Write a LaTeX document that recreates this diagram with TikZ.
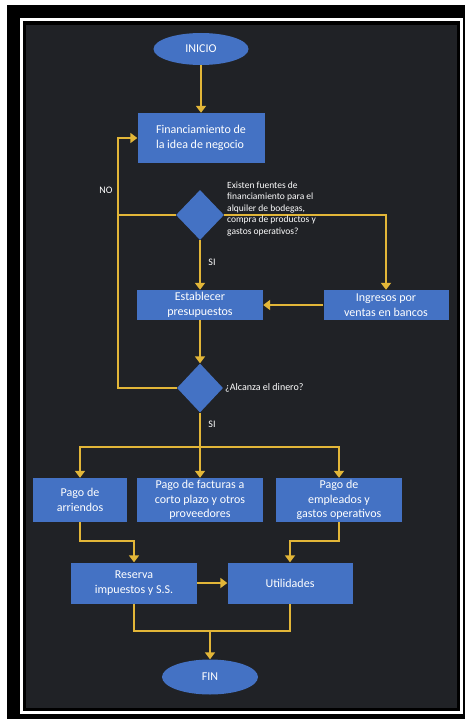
\documentclass[tikz,border=0pt]{standalone}
\usepackage{fontspec}
\setmainfont{Carlito}
\usetikzlibrary{shapes.geometric,arrows.meta}
\definecolor{boxblue}{HTML}{4472C4}
\definecolor{flowgold}{HTML}{E2B638}
\definecolor{panel}{HTML}{202226}
\tikzset{
  x=1pt, y=-1pt,
  stepbox/.style={rectangle, fill=boxblue, text=white, align=center,
    font=\fontsize{12}{14.5}\selectfont, inner sep=2pt},
  term/.style={ellipse, fill=boxblue, text=white, inner sep=0pt,
    font=\fontsize{12}{14.5}\selectfont},
  decision/.style={diamond, fill=boxblue, inner sep=0pt, aspect=1},
  flow/.style={draw=flowgold, line width=1.8pt},
  arr/.style={flow, -{Triangle[width=10pt,length=7pt]}},
  lbl/.style={text=white, inner sep=0pt, font=\fontsize{10}{12}\selectfont},
}
\begin{document}
\begin{tikzpicture}
% page, frame and dark panel
\fill[white] (0,0) rectangle (469,719);
\useasboundingbox (0,0) rectangle (469,719);
\fill[black] (7,5) rectangle (465,719);
\draw[white, line width=2.5pt] (21.5,19.5) rectangle (461.5,712.5);
\fill[panel] (26,25) rectangle (457,708);

% terminals and steps
\node[term, minimum width=95pt, minimum height=32pt] (inicio) at (201,49) {INICIO};
\node[stepbox, minimum width=127pt, minimum height=50pt, align=left] (financ) at (201,138)
  {Financiamiento de\\la idea de negocio};
\node[decision, minimum width=48pt, minimum height=50pt] (d1) at (200,215) {};
\node[stepbox, minimum width=126pt, minimum height=30pt] (estab) at (200,305)
  {Establecer\\presupuestos};
\node[stepbox, minimum width=125pt, minimum height=30pt] (ingresos) at (386,305)
  {Ingresos por\\ventas en bancos};
\node[decision, minimum width=46pt, minimum height=49pt] (d2) at (200,388) {};
\node[stepbox, minimum width=94pt, minimum height=44pt] (arriendos) at (80,500)
  {Pago de\\arriendos};
\node[stepbox, minimum width=126pt, minimum height=44pt] (facturas) at (200,500)
  {Pago de facturas a\\corto plazo y otros\\proveedores};
\node[stepbox, minimum width=126pt, minimum height=44pt] (empleados) at (339,500)
  {Pago de\\empleados y\\gastos operativos};
\node[stepbox, minimum width=126pt, minimum height=41pt] (reserva) at (134,583)
  {Reserva\\impuestos y S.S.};
\node[stepbox, minimum width=125pt, minimum height=41pt] (util) at (290,583)
  {Utilidades};
\node[term, minimum width=96pt, minimum height=35pt] (fin) at (210,677) {FIN};

% junction points
\coordinate (n1) at (118,215);
\coordinate (loopL) at (118,388);
\coordinate (j1) at (200,447);
\coordinate (ka) at (80,541);
\coordinate (ke) at (339,541);
\coordinate (jf) at (210,631);

% connectors
\draw[arr] (inicio) -- (financ);
\draw[flow] (d1.west) -- (n1);
\draw[arr] (d2.west) -- (loopL) |- (financ.west);
\draw[arr] (d1.east) -| (ingresos.north);
\draw[arr] (d1.south) -- (estab.north);
\draw[arr] (ingresos.west) -- (estab.east);
\draw[arr] (estab.south) -- (d2.north);
\draw[flow] (d2.south) -- (j1);
\draw[arr] (j1) -| (arriendos.north);
\draw[arr] (j1) -| (empleados.north);
\draw[arr] (j1) -- (facturas.north);
\draw[arr] (arriendos.south) -- (ka) -| (reserva.north);
\draw[arr] (empleados.south) -- (ke) -| (util.north);
\draw[arr] (reserva.east) -- (util.west);
\draw[flow] (reserva.south) |- (jf) -| (util.south);
\draw[arr] (jf) -- (fin.north);

% labels
\node[lbl] (lno) at (106,190) {NO};
\node[lbl] (lsi1) at (212,262) {SI};
\node[lbl] (lsi2) at (212,424) {SI};
\node[lbl, anchor=west, align=left, font=\fontsize{9.5}{11.5}\selectfont] (q1) at (227,209)
  {Existen fuentes de\\financiamiento para el\\alquiler de bodegas,\\compra de productos y\\gastos operativos?};
\node[lbl, anchor=west] (q2) at (225,388) {¿Alcanza el dinero?};
\end{tikzpicture}
\end{document}
